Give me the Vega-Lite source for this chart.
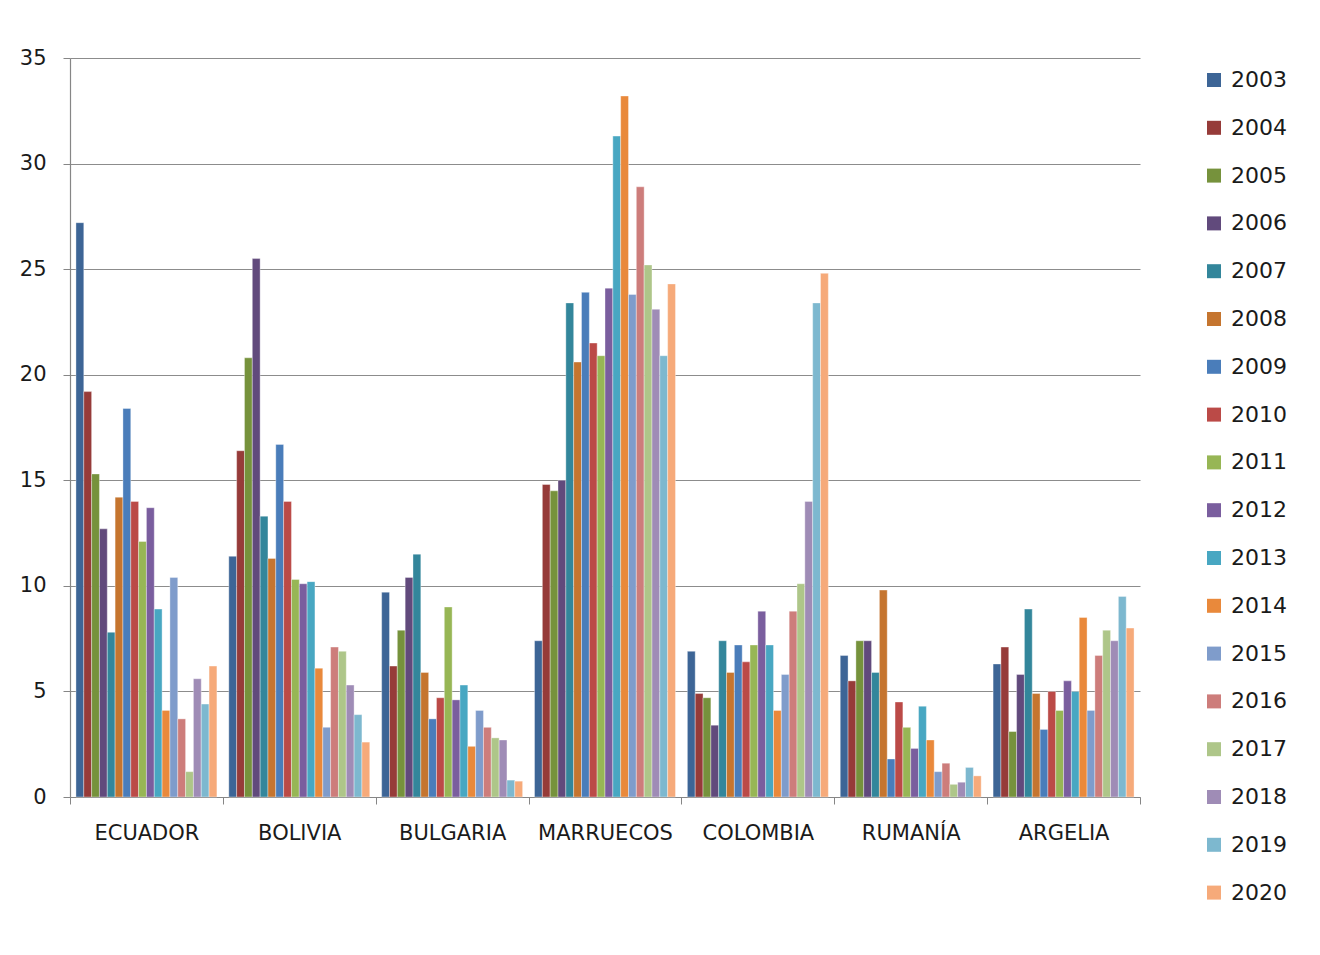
{
  "$schema": "https://vega.github.io/schema/vega-lite/v6.json",
  "autosize": {"type": "none"},
  "width": 1070,
  "height": 739,
  "padding": {"left": 70, "top": 58, "right": 180, "bottom": 158},
  "background": "#ffffff",
  "config": {
    "view": {"stroke": null},
    "font": "DejaVu Sans",
    "axis": {"labelFont": "DejaVu Sans", "labelColor": "#1a1a1a"},
    "legend": {"padding": 0}
  },
  "datasets": {
    "rows": [
      {"pais": "ECUADOR", "anio": "2003", "valor": 27.2},
      {"pais": "ECUADOR", "anio": "2004", "valor": 19.2},
      {"pais": "ECUADOR", "anio": "2005", "valor": 15.3},
      {"pais": "ECUADOR", "anio": "2006", "valor": 12.7},
      {"pais": "ECUADOR", "anio": "2007", "valor": 7.8},
      {"pais": "ECUADOR", "anio": "2008", "valor": 14.2},
      {"pais": "ECUADOR", "anio": "2009", "valor": 18.4},
      {"pais": "ECUADOR", "anio": "2010", "valor": 14.0},
      {"pais": "ECUADOR", "anio": "2011", "valor": 12.1},
      {"pais": "ECUADOR", "anio": "2012", "valor": 13.7},
      {"pais": "ECUADOR", "anio": "2013", "valor": 8.9},
      {"pais": "ECUADOR", "anio": "2014", "valor": 4.1},
      {"pais": "ECUADOR", "anio": "2015", "valor": 10.4},
      {"pais": "ECUADOR", "anio": "2016", "valor": 3.7},
      {"pais": "ECUADOR", "anio": "2017", "valor": 1.2},
      {"pais": "ECUADOR", "anio": "2018", "valor": 5.6},
      {"pais": "ECUADOR", "anio": "2019", "valor": 4.4},
      {"pais": "ECUADOR", "anio": "2020", "valor": 6.2},
      {"pais": "BOLIVIA", "anio": "2003", "valor": 11.4},
      {"pais": "BOLIVIA", "anio": "2004", "valor": 16.4},
      {"pais": "BOLIVIA", "anio": "2005", "valor": 20.8},
      {"pais": "BOLIVIA", "anio": "2006", "valor": 25.5},
      {"pais": "BOLIVIA", "anio": "2007", "valor": 13.3},
      {"pais": "BOLIVIA", "anio": "2008", "valor": 11.3},
      {"pais": "BOLIVIA", "anio": "2009", "valor": 16.7},
      {"pais": "BOLIVIA", "anio": "2010", "valor": 14.0},
      {"pais": "BOLIVIA", "anio": "2011", "valor": 10.3},
      {"pais": "BOLIVIA", "anio": "2012", "valor": 10.1},
      {"pais": "BOLIVIA", "anio": "2013", "valor": 10.2},
      {"pais": "BOLIVIA", "anio": "2014", "valor": 6.1},
      {"pais": "BOLIVIA", "anio": "2015", "valor": 3.3},
      {"pais": "BOLIVIA", "anio": "2016", "valor": 7.1},
      {"pais": "BOLIVIA", "anio": "2017", "valor": 6.9},
      {"pais": "BOLIVIA", "anio": "2018", "valor": 5.3},
      {"pais": "BOLIVIA", "anio": "2019", "valor": 3.9},
      {"pais": "BOLIVIA", "anio": "2020", "valor": 2.6},
      {"pais": "BULGARIA", "anio": "2003", "valor": 9.7},
      {"pais": "BULGARIA", "anio": "2004", "valor": 6.2},
      {"pais": "BULGARIA", "anio": "2005", "valor": 7.9},
      {"pais": "BULGARIA", "anio": "2006", "valor": 10.4},
      {"pais": "BULGARIA", "anio": "2007", "valor": 11.5},
      {"pais": "BULGARIA", "anio": "2008", "valor": 5.9},
      {"pais": "BULGARIA", "anio": "2009", "valor": 3.7},
      {"pais": "BULGARIA", "anio": "2010", "valor": 4.7},
      {"pais": "BULGARIA", "anio": "2011", "valor": 9.0},
      {"pais": "BULGARIA", "anio": "2012", "valor": 4.6},
      {"pais": "BULGARIA", "anio": "2013", "valor": 5.3},
      {"pais": "BULGARIA", "anio": "2014", "valor": 2.4},
      {"pais": "BULGARIA", "anio": "2015", "valor": 4.1},
      {"pais": "BULGARIA", "anio": "2016", "valor": 3.3},
      {"pais": "BULGARIA", "anio": "2017", "valor": 2.8},
      {"pais": "BULGARIA", "anio": "2018", "valor": 2.7},
      {"pais": "BULGARIA", "anio": "2019", "valor": 0.8},
      {"pais": "BULGARIA", "anio": "2020", "valor": 0.75},
      {"pais": "MARRUECOS", "anio": "2003", "valor": 7.4},
      {"pais": "MARRUECOS", "anio": "2004", "valor": 14.8},
      {"pais": "MARRUECOS", "anio": "2005", "valor": 14.5},
      {"pais": "MARRUECOS", "anio": "2006", "valor": 15.0},
      {"pais": "MARRUECOS", "anio": "2007", "valor": 23.4},
      {"pais": "MARRUECOS", "anio": "2008", "valor": 20.6},
      {"pais": "MARRUECOS", "anio": "2009", "valor": 23.9},
      {"pais": "MARRUECOS", "anio": "2010", "valor": 21.5},
      {"pais": "MARRUECOS", "anio": "2011", "valor": 20.9},
      {"pais": "MARRUECOS", "anio": "2012", "valor": 24.1},
      {"pais": "MARRUECOS", "anio": "2013", "valor": 31.3},
      {"pais": "MARRUECOS", "anio": "2014", "valor": 33.2},
      {"pais": "MARRUECOS", "anio": "2015", "valor": 23.8},
      {"pais": "MARRUECOS", "anio": "2016", "valor": 28.9},
      {"pais": "MARRUECOS", "anio": "2017", "valor": 25.2},
      {"pais": "MARRUECOS", "anio": "2018", "valor": 23.1},
      {"pais": "MARRUECOS", "anio": "2019", "valor": 20.9},
      {"pais": "MARRUECOS", "anio": "2020", "valor": 24.3},
      {"pais": "COLOMBIA", "anio": "2003", "valor": 6.9},
      {"pais": "COLOMBIA", "anio": "2004", "valor": 4.9},
      {"pais": "COLOMBIA", "anio": "2005", "valor": 4.7},
      {"pais": "COLOMBIA", "anio": "2006", "valor": 3.4},
      {"pais": "COLOMBIA", "anio": "2007", "valor": 7.4},
      {"pais": "COLOMBIA", "anio": "2008", "valor": 5.9},
      {"pais": "COLOMBIA", "anio": "2009", "valor": 7.2},
      {"pais": "COLOMBIA", "anio": "2010", "valor": 6.4},
      {"pais": "COLOMBIA", "anio": "2011", "valor": 7.2},
      {"pais": "COLOMBIA", "anio": "2012", "valor": 8.8},
      {"pais": "COLOMBIA", "anio": "2013", "valor": 7.2},
      {"pais": "COLOMBIA", "anio": "2014", "valor": 4.1},
      {"pais": "COLOMBIA", "anio": "2015", "valor": 5.8},
      {"pais": "COLOMBIA", "anio": "2016", "valor": 8.8},
      {"pais": "COLOMBIA", "anio": "2017", "valor": 10.1},
      {"pais": "COLOMBIA", "anio": "2018", "valor": 14.0},
      {"pais": "COLOMBIA", "anio": "2019", "valor": 23.4},
      {"pais": "COLOMBIA", "anio": "2020", "valor": 24.8},
      {"pais": "RUMANÍA", "anio": "2003", "valor": 6.7},
      {"pais": "RUMANÍA", "anio": "2004", "valor": 5.5},
      {"pais": "RUMANÍA", "anio": "2005", "valor": 7.4},
      {"pais": "RUMANÍA", "anio": "2006", "valor": 7.4},
      {"pais": "RUMANÍA", "anio": "2007", "valor": 5.9},
      {"pais": "RUMANÍA", "anio": "2008", "valor": 9.8},
      {"pais": "RUMANÍA", "anio": "2009", "valor": 1.8},
      {"pais": "RUMANÍA", "anio": "2010", "valor": 4.5},
      {"pais": "RUMANÍA", "anio": "2011", "valor": 3.3},
      {"pais": "RUMANÍA", "anio": "2012", "valor": 2.3},
      {"pais": "RUMANÍA", "anio": "2013", "valor": 4.3},
      {"pais": "RUMANÍA", "anio": "2014", "valor": 2.7},
      {"pais": "RUMANÍA", "anio": "2015", "valor": 1.2},
      {"pais": "RUMANÍA", "anio": "2016", "valor": 1.6},
      {"pais": "RUMANÍA", "anio": "2017", "valor": 0.6},
      {"pais": "RUMANÍA", "anio": "2018", "valor": 0.7},
      {"pais": "RUMANÍA", "anio": "2019", "valor": 1.4},
      {"pais": "RUMANÍA", "anio": "2020", "valor": 1.0},
      {"pais": "ARGELIA", "anio": "2003", "valor": 6.3},
      {"pais": "ARGELIA", "anio": "2004", "valor": 7.1},
      {"pais": "ARGELIA", "anio": "2005", "valor": 3.1},
      {"pais": "ARGELIA", "anio": "2006", "valor": 5.8},
      {"pais": "ARGELIA", "anio": "2007", "valor": 8.9},
      {"pais": "ARGELIA", "anio": "2008", "valor": 4.9},
      {"pais": "ARGELIA", "anio": "2009", "valor": 3.2},
      {"pais": "ARGELIA", "anio": "2010", "valor": 5.0},
      {"pais": "ARGELIA", "anio": "2011", "valor": 4.1},
      {"pais": "ARGELIA", "anio": "2012", "valor": 5.5},
      {"pais": "ARGELIA", "anio": "2013", "valor": 5.0},
      {"pais": "ARGELIA", "anio": "2014", "valor": 8.5},
      {"pais": "ARGELIA", "anio": "2015", "valor": 4.1},
      {"pais": "ARGELIA", "anio": "2016", "valor": 6.7},
      {"pais": "ARGELIA", "anio": "2017", "valor": 7.9},
      {"pais": "ARGELIA", "anio": "2018", "valor": 7.4},
      {"pais": "ARGELIA", "anio": "2019", "valor": 9.5},
      {"pais": "ARGELIA", "anio": "2020", "valor": 8.0}
    ]
  },
  "data": {"name": "rows"},
  "mark": {"type": "bar", "stroke": "#ffffff", "strokeWidth": 0.6, "strokeOpacity": 0.6},
  "encoding": {
    "x": {
      "field": "pais",
      "type": "nominal",
      "sort": null,
      "title": null,
      "scale": {"paddingInner": 0, "paddingOuter": 0},
      "axis": {
        "labelAngle": 0,
        "labelFontSize": 21,
        "labelPadding": 18,
        "tickBand": "extent",
        "tickSize": 7,
        "tickColor": "#868686",
        "domainColor": "#868686",
        "domainWidth": 1.2,
        "grid": false
      }
    },
    "xOffset": {
      "field": "anio",
      "type": "nominal",
      "scale": {"paddingInner": 0, "paddingOuter": 0.76}
    },
    "y": {
      "field": "valor",
      "type": "quantitative",
      "title": null,
      "scale": {"domain": [0, 35], "nice": false},
      "axis": {
        "values": [0, 5, 10, 15, 20, 25, 30, 35],
        "labelFontSize": 21,
        "labelPadding": 17,
        "tickSize": 7,
        "tickColor": "#868686",
        "domainColor": "#868686",
        "domainWidth": 1.2,
        "gridColor": "#8c8c8c",
        "gridWidth": 1.2
      }
    },
    "color": {
      "field": "anio",
      "type": "nominal",
      "title": null,
      "scale": {
        "range": ["#3D6596", "#963B39", "#76923C", "#614A7C", "#33869B", "#C5752F", "#4A7DBA", "#BB4A47", "#97B655", "#7A5E9E", "#48A7C2", "#E9893B", "#7F9CCB", "#CD7D7B", "#AEC689", "#9F8CB6", "#7DB8CF", "#F6AA7A"]
      },
      "legend": {
        "orient": "none",
        "legendX": 1133,
        "legendY": 11,
        "symbolType": "square",
        "symbolSize": 196,
        "symbolStrokeWidth": 0,
        "labelFontSize": 22,
        "labelColor": "#1a1a1a",
        "labelOffset": 6,
        "rowPadding": 25.8,
        "labelLimit": 200
      }
    }
  }
}
